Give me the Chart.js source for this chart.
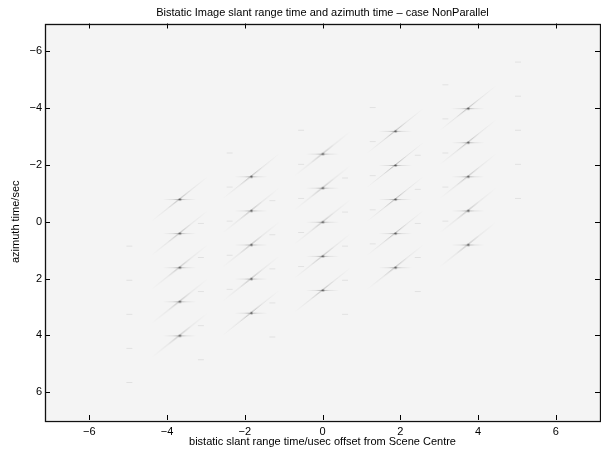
<!DOCTYPE html>
<html>
<head>
<meta charset="utf-8">
<script src="https://cdn.jsdelivr.net/npm/chart.js@4/dist/chart.umd.min.js"></script>
<style>
  html, body { margin: 0; padding: 0; background: #ffffff; overflow: hidden; }
  #wrap { width: 601px; height: 450px; overflow: hidden; position: relative; }
  canvas { display: block; }
</style>
</head>
<body>
<div id="wrap"><canvas id="c" width="605" height="450" style="width:605px;height:450px"></canvas></div>
<script>
// ---- data ----
const titleText = 'Bistatic Image slant range time and azimuth time \u2013 case NonParallel';
const xTitle = 'bistatic slant range time/usec offset from Scene Centre';
const yTitle = 'azimuth time/sec';

const rangeTicks = [-6, -4, -2, 0, 2, 4, 6];
const azimuthTicks = [-6, -4, -2, 0, 2, 4, 6];
const rangeLimits = [-7.14, 7.14];
const azimuthLimits = [-6.98, 6.98];

// point targets (slant range time, azimuth time)
const targetRange = [
  -3.68, -3.68, -3.68, -3.68, -3.68,
  -1.84, -1.84, -1.84, -1.84, -1.84,
   0.00,  0.00,  0.00,  0.00,  0.00,
   1.87,  1.87,  1.87,  1.87,  1.87,
   3.74,  3.74,  3.74,  3.74,  3.74
];
const targetAzimuth = [
  -0.80,  0.40,  1.60,  2.80,  4.00,
  -1.60, -0.40,  0.80,  2.00,  3.20,
  -2.40, -1.20,  0.00,  1.20,  2.40,
  -3.20, -2.00, -0.80,  0.40,  1.60,
  -4.00, -2.80, -1.60, -0.40,  0.80
];

// faint paired echoes
const echoRange = [
  -2.39, -2.39, -2.39, -2.39, -2.39,  -4.97, -4.97, -4.97, -4.97, -4.97,
  -0.55, -0.55, -0.55, -0.55, -0.55,  -3.13, -3.13, -3.13, -3.13, -3.13,
   1.29,  1.29,  1.29,  1.29,  1.29,  -1.29, -1.29, -1.29, -1.29, -1.29,
   3.16,  3.16,  3.16,  3.16,  3.16,   0.58,  0.58,  0.58,  0.58,  0.58,
   5.03,  5.03,  5.03,  5.03,  5.03,   2.45,  2.45,  2.45,  2.45,  2.45
];
const echoAzimuth = [
  -2.44, -1.24, -0.04,  1.16,  2.36,   0.84,  2.04,  3.24,  4.44,  5.64,
  -3.24, -2.04, -0.84,  0.36,  1.56,   0.04,  1.24,  2.44,  3.64,  4.84,
  -4.04, -2.84, -1.64, -0.44,  0.76,  -0.76,  0.44,  1.64,  2.84,  4.04,
  -4.84, -3.64, -2.44, -1.24, -0.04,  -1.56, -0.36,  0.84,  2.04,  3.24,
  -5.64, -4.44, -3.24, -2.04, -0.84,  -2.36, -1.16,  0.04,  1.24,  2.44
];

// ---- styles ----
const FONT = "'Liberation Sans', Arial, Helvetica, sans-serif";
Chart.defaults.font.family = FONT;
Chart.defaults.font.size = 11;
Chart.defaults.color = '#000000';

function fadeGradient(g, x0, y0, x1, y1, a) {
  const gr = g.createLinearGradient(x0, y0, x1, y1);
  gr.addColorStop(0, 'rgba(0,0,0,0)');
  gr.addColorStop(0.3, 'rgba(0,0,0,' + (a * 0.3) + ')');
  gr.addColorStop(0.5, 'rgba(0,0,0,' + a + ')');
  gr.addColorStop(0.7, 'rgba(0,0,0,' + (a * 0.3) + ')');
  gr.addColorStop(1, 'rgba(0,0,0,0)');
  return gr;
}
function makeTargetGlyph() {
  const c = document.createElement('canvas');
  c.width = 64; c.height = 50;
  const g = c.getContext('2d');
  const cx = 32, cy = 25;
  g.lineWidth = 1;
  g.strokeStyle = fadeGradient(g, cx - 17, 0, cx + 17, 0, 0.3);
  g.beginPath(); g.moveTo(cx - 17, cy + 0.5); g.lineTo(cx + 17, cy + 0.5); g.stroke();
  g.strokeStyle = fadeGradient(g, cx - 29, cy + 23, cx + 29, cy - 23, 0.3);
  g.beginPath(); g.moveTo(cx - 29, cy + 23); g.lineTo(cx + 29, cy - 23); g.stroke();
  const rg = g.createRadialGradient(cx + 0.5, cy + 0.5, 0, cx + 0.5, cy + 0.5, 2);
  rg.addColorStop(0, 'rgba(0,0,0,0.5)');
  rg.addColorStop(1, 'rgba(0,0,0,0)');
  g.fillStyle = rg;
  g.fillRect(cx - 2, cy - 2, 5, 5);
  return c;
}
function makeEchoGlyph() {
  const c = document.createElement('canvas');
  c.width = 10; c.height = 4;
  const g = c.getContext('2d');
  g.strokeStyle = 'rgba(0,0,0,0.08)';
  g.lineWidth = 1;
  g.beginPath(); g.moveTo(2, 2.5); g.lineTo(8, 2.5); g.stroke();
  return c;
}

const toPts = (xs, ys) => xs.map((x, i) => ({ x: x, y: ys[i] }));
const minusFmt = v => (v < 0 ? '\u2212' + Math.abs(v) : String(v));

const framePlugin = {
  id: 'frame',
  beforeDraw(chart) {
    const { ctx, chartArea: a } = chart;
    ctx.save();
    ctx.fillStyle = '#f4f4f4';
    ctx.fillRect(a.left, a.top, a.right - a.left, a.bottom - a.top);
    ctx.restore();
  },
  afterDatasetsDraw(chart) {
    const { ctx, chartArea: a, scales } = chart;
    const xs = scales.x, ys = scales.y;
    const L = 5;
    ctx.save();
    ctx.strokeStyle = '#000000';
    ctx.lineWidth = 1;
    ctx.beginPath();
    rangeTicks.forEach(v => {
      const px = Math.round(xs.getPixelForValue(v)) + 0.5;
      ctx.moveTo(px, a.bottom); ctx.lineTo(px, a.bottom - L);
      ctx.moveTo(px, a.top); ctx.lineTo(px, a.top + L);
    });
    azimuthTicks.forEach(v => {
      const py = Math.round(ys.getPixelForValue(v)) + 0.5;
      ctx.moveTo(a.left, py); ctx.lineTo(a.left + L, py);
      ctx.moveTo(a.right, py); ctx.lineTo(a.right - L, py);
    });
    ctx.stroke();
    ctx.lineWidth = 1.3;
    ctx.strokeStyle = '#111111';
    ctx.strokeRect(Math.round(a.left) + 0.5, Math.round(a.top) + 0.5,
                   Math.round(a.right - a.left), Math.round(a.bottom - a.top));
    ctx.restore();
  }
};

new Chart(document.getElementById('c'), {
  type: 'scatter',
  data: {
    datasets: [
      {
        label: 'targets',
        data: toPts(targetRange, targetAzimuth),
        pointStyle: makeTargetGlyph(),
        pointRadius: 3,
        showLine: false
      },
      {
        label: 'echoes',
        data: toPts(echoRange, echoAzimuth),
        pointStyle: makeEchoGlyph(),
        pointRadius: 3,
        showLine: false
      }
    ]
  },
  options: {
    responsive: false,
    maintainAspectRatio: false,
    devicePixelRatio: 1,
    animation: false,
    events: [],
    layout: { padding: { left: 0, right: 0, top: 0, bottom: 0 } },
    plugins: {
      legend: { display: false },
      tooltip: { enabled: false },
      title: {
        display: true,
        text: titleText,
        fullSize: false,
        color: '#000000',
        font: { family: FONT, size: 11, weight: 'normal' },
        padding: { top: 6, bottom: 4.3 }
      }
    },
    scales: {
      x: {
        type: 'linear',
        position: 'bottom',
        min: rangeLimits[0],
        max: rangeLimits[1],
        grid: { display: false, drawTicks: false },
        border: { display: false },
        afterBuildTicks: s => { s.ticks = rangeTicks.map(v => ({ value: v })); },
        afterFit: s => { s.height = 30; },
        ticks: { padding: 5, color: '#000000', font: { size: 11 }, maxRotation: 0, callback: minusFmt },
        title: { display: true, text: xTitle, color: '#000000', font: { size: 11 }, padding: { top: 0, bottom: 1.4 } }
      },
      y: {
        type: 'linear',
        position: 'left',
        reverse: true,
        min: azimuthLimits[0],
        max: azimuthLimits[1],
        grid: { display: false, drawTicks: false },
        border: { display: false },
        afterBuildTicks: s => { s.ticks = azimuthTicks.map(v => ({ value: v })); },
        afterFit: s => { s.width = 45; },
        ticks: { padding: 3, color: '#000000', font: { size: 11 }, callback: minusFmt },
        title: { display: true, text: yTitle, color: '#000000', font: { size: 11 }, padding: { top: 9, bottom: 0 } }
      }
    }
  },
  plugins: [framePlugin]
});
</script>
</body>
</html>
